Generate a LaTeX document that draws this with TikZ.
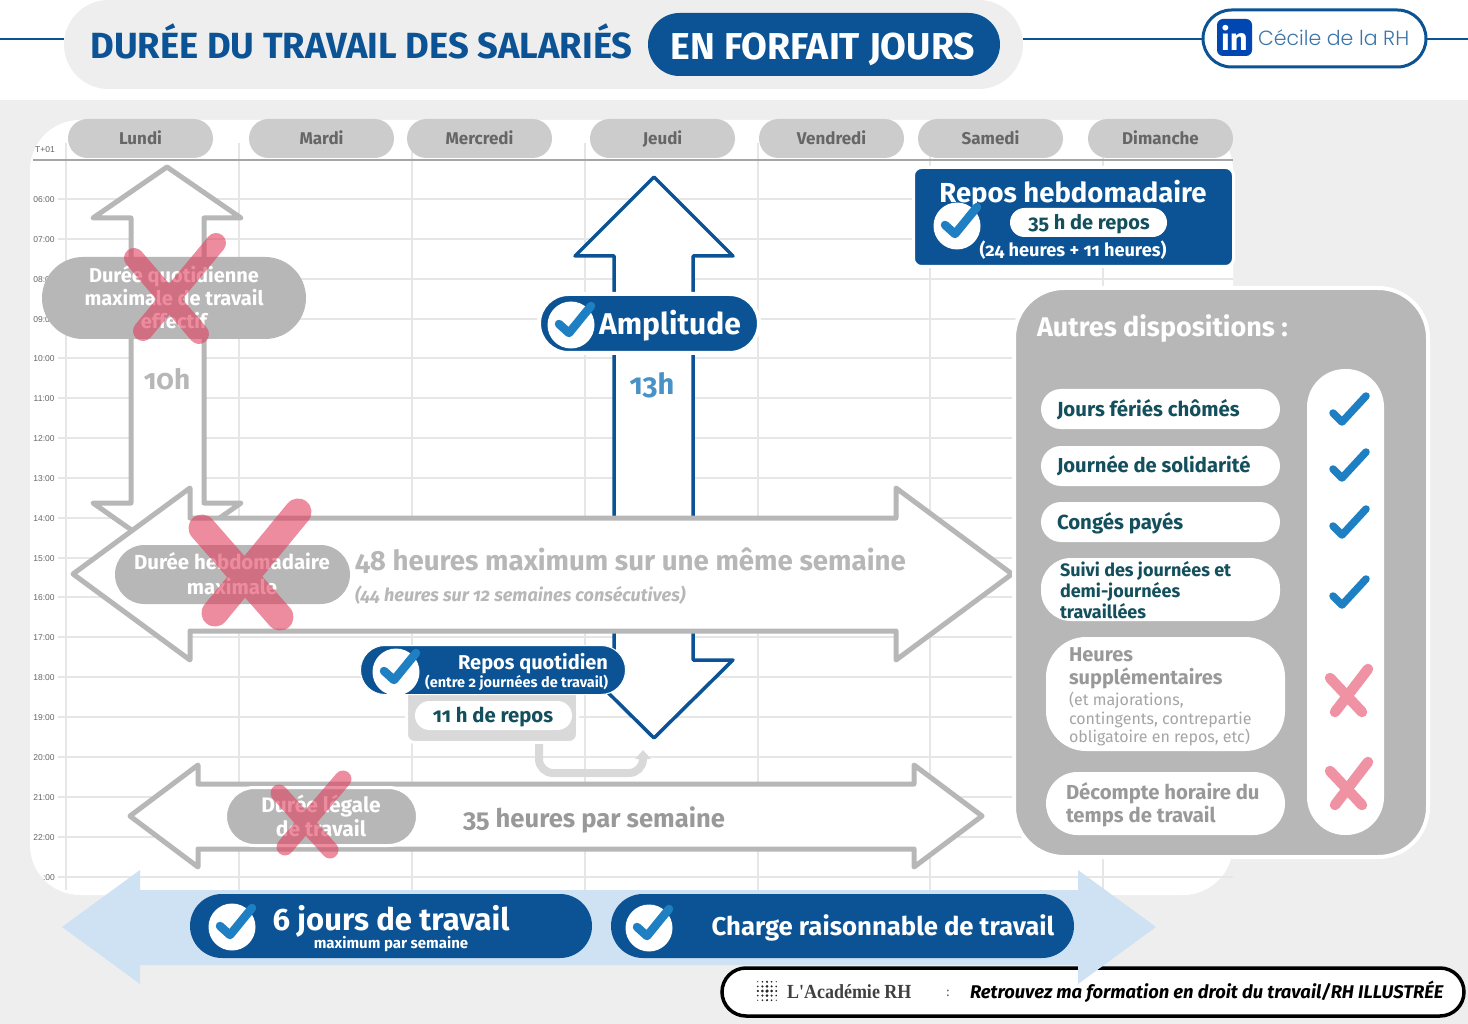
\documentclass[tikz,border=0pt]{standalone}
\usepackage{fontspec}
\setmainfont[Numbers=OldStyle]{Fira Sans}
\newfontfamily\poppinsf{Poppins Light}
\newfontfamily\serifb[FakeStretch=0.9]{Liberation Serif}
\newfontfamily\timef{Liberation Sans}
\usetikzlibrary{arrows.meta}
\definecolor{navy}{HTML}{0B5394}
\definecolor{chkblue}{HTML}{1E7FC3}
\definecolor{lightblue}{HTML}{CFE2F3}
\definecolor{midgray}{HTML}{B7B7B7}
\definecolor{daygray}{HTML}{CCCCCC}
\definecolor{daytext}{HTML}{666666}
\definecolor{bggray}{HTML}{EEEEEE}
\definecolor{gridc}{HTML}{E6E6E6}
\definecolor{teal}{HTML}{134F5C}
\definecolor{pink}{HTML}{EF92A3}
\definecolor{redx}{HTML}{E0405E}
\definecolor{txtgray}{HTML}{999999}
\definecolor{softgray}{HTML}{D9D9D9}
\newcommand\fsz[2]{\fontsize{#1}{#2}\selectfont}
\newcommand\pill[7][]{\node[pillbase,minimum width={(#5-#3)*1pt},minimum height={(#6-#4)*1pt},rounded corners={(#6-#4)/2*1pt},#1] (#2) at ({(#3+#5)/2},{(#4+#6)/2}) {#7};}
\newcommand\okmark[3]{% x y : white disc with check
  \node[circle,fill=white,minimum size=47pt,inner sep=0pt] (#3) at (#1,#2) {};
  \draw[chkblue,line width=8.5pt,line cap=round,line join=round] (#1-12,#2-1) -- (#1-2,#2+8) -- (#1+20,#2-19);}
\newcommand\bigcheck[2]{\draw[chkblue,line width=7.5pt,line cap=round,line join=round] (#1-16,#2+4) -- (#1-7,#2+13) -- (#1+17,#2-13);}
\newcommand\panelx[2]{\draw[pink,line width=10.5pt,line cap=round] (#1-19,#2-14) -- (#1+13,#2+20) (#1+19,#2-23) -- (#1-14,#2+20);}
\newcommand\crossout[9]{\draw[redx,opacity=.6,line width=#1pt,line cap=round] (#2,#3) -- (#4,#5) (#6,#7) -- (#8,#9);}
\tikzset{
  pillbase/.style={rectangle,inner sep=0pt,outer sep=0pt,align=center},
  lbl/.style={inner sep=0pt,outer sep=0pt,align=center},
  lblleft/.style={inner sep=0pt,outer sep=0pt,align=left,anchor=west},
  daypill/.style={fill=daygray,text=daytext,font=\fsz{17}{20}\bfseries},
  grayarrow/.style={draw=midgray,fill=white,line width=5pt,line join=round},
  navyarrow/.style={draw=navy,fill=white,line width=3.5pt,line join=round},
  timelbl/.style={inner sep=0pt,text=daytext,font=\timef\fsz{8.5}{10}}
}
\begin{document}
\begin{tikzpicture}[x=1pt,y=-1pt]
\useasboundingbox (0,0) rectangle (1468,1024);
% page
\fill[white] (0,0) rectangle (1468,1024);
\fill[bggray] (0,100) rectangle (1468,1024);
% calendar sheet
\fill[white,rounded corners=50pt] (30,120) rectangle (1233,895);
\foreach \vx in {66,239,412,585,758,930,1103} \draw[gridc,line width=1.2pt] (\vx,143) -- (\vx,890);
\foreach \hy in {199,239,279,319,358,398,438,478,518,558,597,637,677,717,757,797,837,877} \draw[gridc,line width=1.2pt] (58,\hy) -- (1233,\hy);
\draw[black!35,line width=1.2pt] (33,160) -- (1233,160);
\foreach \hy/\hl in {199/06:00,239/07:00,279/08:00,319/09:00,358/10:00,398/11:00,438/12:00,478/13:00,518/14:00,558/15:00,597/16:00,637/17:00,677/18:00,717/19:00,757/20:00,797/21:00,837/22:00}
  \node[timelbl] (t\hy) at (44,\hy+0.6) {\hl};
\node[timelbl] (tgmt) at (45,150) {T+01};
\node[timelbl] (tend) at (49,877.6) {:00};
% header
\draw[navy,line width=2.5pt] (0,39) -- (64,39);
\draw[navy,line width=2.5pt] (1023,39) -- (1205,39);
\draw[navy,line width=2.5pt] (1424,39) -- (1468,39);
\pill[fill=bggray]{hdr}{64}{0}{1023}{89}{}
\node[lbl,text=navy,font=\fsz{36.4}{38}\bfseries] (hdrt) at (361.5,41) {DURÉE DU TRAVAIL DES SALARIÉS};
\pill[fill=navy]{forfait}{648}{13}{1000}{76}{}
\node[lbl,text=white,font=\fsz{37.4}{38}\bfseries] (forfaitt) at (823,49.5) {EN FORFAIT JOURS};
\pill[fill=white,draw=navy,line width=3pt]{lkd}{1203}{10}{1426}{67}{}
\pill[fill=blue!60!cyan!70!black,rounded corners=6pt,text=white,font=\fsz{31}{32}\bfseries]{lkdlogo}{1217}{19}{1252}{56}{in}
\node[lblleft,text=navy!80,font=\poppinsf\fsz{20.5}{24}] (lkdt) at (1258,38) {Cécile de la RH};
% day pills
\foreach \a/\b/\c in {68/213/Lundi,249/394/Mardi,407/552/Mercredi,590/735/Jeudi,759/904/Vendredi,918/1063/Samedi,1088/1233/Dimanche}
  {\pill[daypill]{day\a}{\a}{119}{\b}{158}{\vphantom{Jd}\raisebox{-1pt}{\c}}}
% 10h arrow
\draw[grayarrow] (167,167) -- (241,218) -- (204,218) -- (204,503) -- (241,503) -- (167,555) -- (93,503) -- (131,503) -- (131,218) -- (93,218) -- cycle;
\node[lbl,text=midgray,font=\fsz{28}{30}\bfseries] (tenh) at (167,379) {10h};
% amplitude arrow
\draw[navyarrow] (654,177) -- (733,256) -- (693,256) -- (693,660) -- (733,660) -- (654,738) -- (575,660) -- (614,660) -- (614,256) -- (575,256) -- cycle;
\node[lbl,text=chkblue!80!navy!80,font=\fsz{29}{30}\bfseries] (thirteen) at (652,385) {13h};
% 48 h arrow
\draw[grayarrow] (73,574) -- (190,488) -- (190,518) -- (896,518) -- (896,488) -- (1012,574) -- (896,660) -- (896,631) -- (190,631) -- (190,660) -- cycle;
% 35 h arrow
\draw[grayarrow] (130,816) -- (198,765) -- (198,784) -- (914,784) -- (914,765) -- (982,816) -- (914,867) -- (914,849) -- (198,849) -- (198,867) -- cycle;
% amplitude pill
\pill[fill=navy,draw=white,line width=4pt]{ampl}{539}{294}{759}{353}{}
\okmark{571}{325}{amplchk}
\node[lbl,text=white,font=\fsz{30}{32}\bfseries] (amplt) at (670,326) {Amplitude};
% durée quotidienne
\pill[fill=midgray]{quot}{42}{257}{306}{339}{}
\node[lbl,text=white,font=\fsz{20}{23}\bfseries] (quott) at (174,297.5) {Durée quotidienne\\maximale de travail\\effectif};
\crossout{20}{216}{243}{143}{331}{134}{258}{199}{334}
% durée hebdo
\pill[fill=midgray]{hebdo}{115}{545}{350}{604}{}
\node[lbl,text=white,font=\fsz{20.4}{25}\bfseries] (hebdot) at (232,574) {Durée hebdomadaire\\maximale};
\crossout{27}{298}{512}{215}{613}{202}{528}{280}{617}
\node[lblleft,text=midgray,font=\fsz{27.7}{30}\bfseries] (t48) at (355,561) {48 heures maximum sur une même semaine};
\node[lblleft,text=midgray,font=\fsz{18.1}{20}\bfseries\itshape] (t44) at (355,595) {(44 heures sur 12 semaines consécutives)};
% durée légale
\pill[fill=midgray,draw=white,line width=3pt]{legale}{225.5}{787.5}{417.5}{845.5}{}
\node[lbl,text=white,font=\fsz{21}{23.5}\bfseries] (legalet) at (321,816) {Durée légale\\de travail};
\crossout{17}{343}{779}{285}{847}{279}{793}{330}{850}
\node[lbl,text=black!40,font=\fsz{25.6}{30}\bfseries] (t35) at (594,820) {35 heures par semaine};
% repos quotidien
\pill[fill=softgray,draw=white,line width=3pt,rounded corners=8pt]{rqbox}{406.5}{670}{577.5}{742.5}{}
\coordinate (rqout) at (539,744);
\coordinate (rqtip) at (643,750);
\draw[softgray,line width=8pt,rounded corners=14pt,-{Triangle[length=9pt,width=15pt]}] (rqout) |- (590,773) -| (rqtip);
\pill[fill=white]{rqval}{415}{701}{572}{730}{}
\node[lbl,text=teal,font=\fsz{20.3}{22}\bfseries] (rqvalt) at (493,717) {11 h de repos};
\pill[fill=navy,draw=white,line width=1pt]{rq}{360.5}{645.5}{625.5}{694.5}{}
\okmark{396}{672}{rqchk}
\node[lbl,align=right,anchor=east,text=white,font=\fsz{20}{22}\bfseries] (rqt) at (608,664) {Repos quotidien};
\node[lbl,align=right,anchor=east,text=white,font=\fsz{14.5}{16}\bfseries] (rqs) at (608,683) {(entre 2 journées de travail)};
% repos hebdo
\pill[fill=navy,draw=white,line width=3pt,rounded corners=8pt]{rh}{913.5}{167.5}{1233.5}{266.5}{}
\node[lbl,text=white,font=\fsz{27.5}{30}\bfseries] (rht) at (1073,194) {Repos hebdomadaire};
\okmark{957}{226}{rhchk}
\pill[fill=white]{rhval}{1010}{208}{1167}{237}{}
\node[lbl,text=teal,font=\fsz{20}{22}\bfseries] (rhvalt) at (1089,224) {35 h de repos};
\node[lbl,text=white,font=\fsz{18.2}{19}\bfseries] (rhs) at (1073,250) {(24 heures + 11 heures)};
% autres dispositions
\pill[fill=midgray,draw=white,line width=4pt,rounded corners=50pt]{panel}{1014}{288}{1428}{857}{}
\node[lblleft,text=white,font=\fsz{27}{30}\bfseries] (panelt) at (1037,329) {Autres dispositions :};
\pill[fill=white,rounded corners=38pt]{col}{1307}{369}{1384}{835}{}
\pill[fill=white]{p1}{1041}{389}{1280}{429}{}
\node[lblleft,text=teal,font=\fsz{20.4}{22}\bfseries] (p1t) at (1057,410) {Jours fériés chômés};
\pill[fill=white]{p2}{1041}{446}{1280}{486}{}
\node[lblleft,text=teal,font=\fsz{20.2}{22}\bfseries] (p2t) at (1057,466) {Journée de solidarité};
\pill[fill=white]{p3}{1041}{502}{1280}{542}{}
\node[lblleft,text=teal,font=\fsz{20.4}{22}\bfseries] (p3t) at (1057,523) {Congés payés};
\pill[fill=white,rounded corners=30pt]{p4}{1041}{558}{1280}{621}{}
\node[lblleft,text=teal,font=\fsz{18}{21}\bfseries] (p4t) at (1060,590) {Suivi des journées et\\demi-journées\\travaillées};
\pill[fill=white,rounded corners=40pt]{p5}{1046}{637}{1285}{751}{}
\node[lblleft,text=txtgray,font=\fsz{20}{23}\bfseries] (p5t) at (1069,668) {Heures\\supplémentaires};
\node[lblleft,text=midgray!90!black,font=\fsz{16}{18.5}] (p5s) at (1069,719) {(et majorations,\\contingents, contrepartie\\obligatoire en repos, etc)};
\pill[fill=white]{p6}{1046}{772}{1285}{835}{}
\node[lblleft,text=txtgray,font=\fsz{20.3}{23}\bfseries] (p6t) at (1066,805) {Décompte horaire du\\temps de travail};
\bigcheck{1349}{409}
\bigcheck{1349}{465}
\bigcheck{1349}{522}
\bigcheck{1349}{592}
\panelx{1349}{692}
\panelx{1349}{785}
% bottom banner, under the arrow
\pill[fill=white,draw=black,line width=3.5pt]{banner}{722}{968}{1464}{1016}{}
\foreach \i in {-2,...,2} \foreach \j in {-2,...,2} {
  \pgfmathsetmacro\dotr{2.2-0.35*(abs(\i)+abs(\j))}
  \fill[black!85] (767+4.6*\i,991+4.6*\j) circle[radius=\dotr*0.8];
}
\node[lblleft,text=black!75,font=\serifb\bfseries\fsz{20}{22}] (acad) at (787,992) {L'Académie RH};
\node[lbl,text=black!60,font=\fsz{13}{15}] (colon) at (948,993) {:};
\node[lblleft,text=black,font=\fsz{18.4}{20}\itshape\bfseries] (retro) at (970,992) {Retrouvez ma formation en droit du travail/RH ILLUSTRÉE};
% pale blue arrow
\fill[lightblue] (62,927) -- (140,870) -- (140,890) -- (1078,890) -- (1078,870) -- (1156,927) -- (1078,984) -- (1078,965) -- (140,965) -- (140,984) -- cycle;
\pill[fill=navy]{six}{190}{894}{592}{958}{}
\okmark{232}{927}{sixchk}
\node[lbl,text=white,font=\fsz{31}{32}\bfseries] (sixt) at (391,921) {6 jours de travail};
\node[lbl,text=white,font=\fsz{15}{17}\bfseries] (sixs) at (391,944) {maximum par semaine};
\pill[fill=navy]{charge}{611}{894}{1074}{958}{}
\okmark{649}{928}{chargechk}
\node[lbl,text=white,font=\fsz{25.7}{28}\bfseries] (charget) at (883,928) {Charge raisonnable de travail};
\end{tikzpicture}
\end{document}
